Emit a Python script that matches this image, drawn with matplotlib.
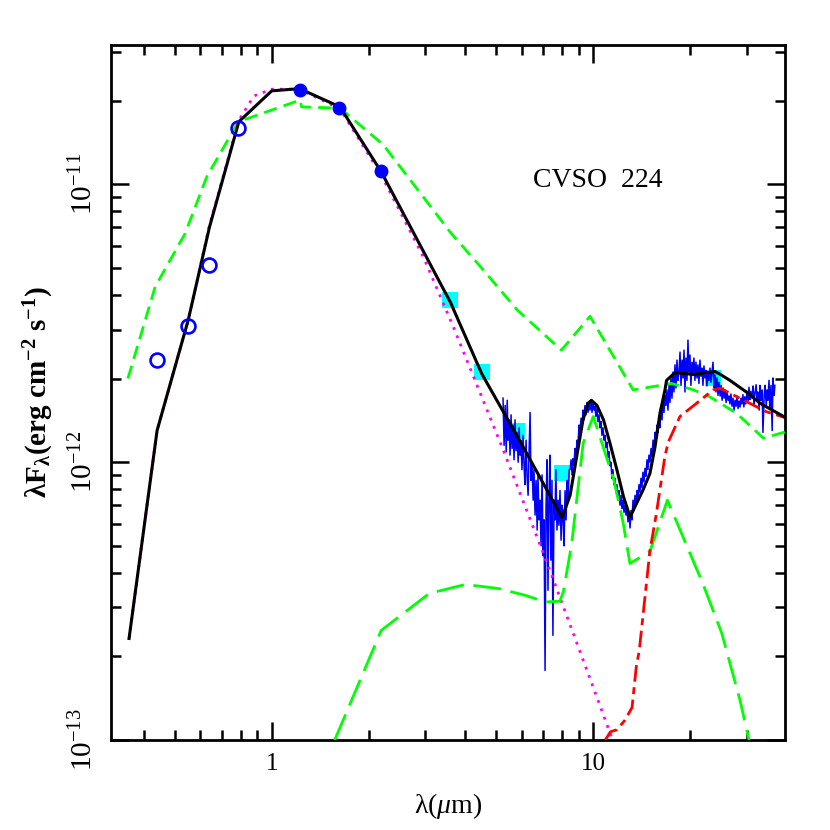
import numpy as np
import matplotlib
matplotlib.use("Agg")
import matplotlib.pyplot as plt
from matplotlib.ticker import LogLocator, FixedLocator, FixedFormatter, NullFormatter

plt.rcParams['font.family'] = ['Liberation Serif', 'DejaVu Serif']
plt.rcParams['mathtext.fontset'] = 'custom'
plt.rcParams['mathtext.rm'] = 'Liberation Serif'
plt.rcParams['mathtext.it'] = 'Liberation Serif:italic'
plt.rcParams['mathtext.bf'] = 'Liberation Serif:bold'

# photometry (micron, erg cm-2 s-1)
opt_wave = [0.439, 0.55, 0.638, 0.787]
opt_flux = [2.34e-12, 3.1e-12, 5.13e-12, 1.6e-11]
nir_wave = [1.22, 1.62, 2.19]
nir_flux = [2.19e-11, 1.89e-11, 1.12e-11]
irac_wave = [3.59, 4.5, 5.78, 7.97, 23.6]
irac_flux = [3.83e-12, 2.11e-12, 1.30e-12, 9.15e-13, 2.01e-12]

# IRS spectrum (micron, flux in 1e-12 erg cm-2 s-1)
irs = [(5.24,1.70),(5.28,1.15),(5.32,1.60),(5.36,1.09),(5.40,1.67),(5.43,1.20),(5.47,1.42),(5.51,1.06),
       (5.55,1.48),(5.59,1.12),(5.63,1.36),(5.67,1.02),(5.71,1.42),(5.75,1.10),(5.79,1.28),(5.84,1.00),
       (5.88,1.33),(5.92,1.06),(5.96,1.20),(6.00,0.94),(6.05,1.25),(6.09,0.975),(6.13,0.83),(6.18,1.20),
       (6.22,0.90),(6.27,0.76),(6.31,1.06),(6.36,1.51),(6.40,0.86),(6.45,0.975),(6.50,0.73),(6.54,0.94),
       (6.59,0.645),(6.64,0.86),(6.69,0.57),(6.73,0.90),(6.78,0.62),(6.83,0.73),(6.88,0.50),(6.93,0.90),
       (6.98,0.46),(7.03,0.62),(7.08,0.178),(7.13,0.70),(7.18,1.02),(7.23,0.346),(7.28,0.73),(7.33,1.06),
       (7.38,0.444),(7.44,0.86),(7.49,0.238),(7.55,0.73),(7.60,0.62),(7.65,0.94),(7.71,0.57),(7.77,0.73),
       (7.82,0.593),(7.88,0.79),(7.94,0.524),(7.99,0.70),(8.05,0.62),(8.11,0.50),(8.17,0.79),(8.23,0.62),
       (8.29,0.86),(8.35,0.73),(8.41,0.94),(8.47,0.94),(8.53,1.02),(8.59,0.90),(8.65,1.03),(8.71,0.975),
       (8.77,1.12),(8.84,1.06),(8.90,1.20),(8.96,1.15),(9.03,1.36),(9.09,1.28),
       (9.16,1.44),(9.22,1.33),(9.29,1.54),(9.35,1.42),(9.42,1.60),(9.49,1.48),(9.56,1.64),(9.63,1.51),
       (9.70,1.62),(9.77,1.54),(9.84,1.67),(9.91,1.51),(9.98,1.63),(10.05,1.54),(10.12,1.59),(10.19,1.46),
       (10.27,1.56),(10.34,1.40),(10.42,1.48),(10.49,1.33),(10.57,1.40),(10.64,1.25),(10.72,1.33),(10.80,1.20),
       (10.87,1.25),(10.95,1.13),(11.03,1.18),(11.11,1.04),(11.19,1.09),(11.27,0.97),(11.35,1.00),(11.43,0.875),
       (11.51,0.94),(11.60,0.83),(11.68,0.875),(11.76,0.78),(11.85,0.83),(11.94,0.74),(12.02,0.79),(12.11,0.70),
       (12.20,0.76),(12.28,0.68),(12.37,0.73),(12.46,0.66),(12.55,0.70),(12.64,0.645),(12.73,0.68),(12.82,0.61),
       (12.92,0.66),(13.01,0.58),(13.10,0.67),(13.20,0.62),(13.29,0.73),(13.39,0.67),(13.48,0.76),(13.58,0.70),
       (13.68,0.79),(13.77,0.74),(13.87,0.83),(13.97,0.78),(14.07,0.875),(14.17,0.81),(14.27,0.92),(14.38,0.85),
       (14.48,0.95),(14.58,0.89),(14.69,1.02),(14.79,0.94),(14.90,1.06),(15.01,1.00),(15.12,1.12),(15.23,1.05),
       (15.34,1.20),(15.45,1.10),(15.56,1.28),(15.67,1.20),(15.78,1.36),(15.89,1.28),(16.01,1.44),(16.12,1.33),
       (16.24,1.57),(16.36,1.42),(16.47,1.67),(16.59,1.51),(16.71,1.74),(16.83,1.60),
       (16.95,1.82),(17.07,1.54),(17.20,1.89),(17.32,1.64),(17.44,2.01),(17.57,1.70),(17.69,2.11),(17.82,1.79),
       (17.95,2.24),(18.08,1.85),(18.21,2.33),(18.34,1.97),(18.47,2.11),(18.61,2.49),(18.74,1.89),(18.88,2.33),
       (19.01,2.01),(19.15,2.53),(19.28,1.79),(19.42,2.37),(19.56,1.97),(19.70,2.75),(19.84,2.11),(19.98,2.43),
       (20.12,1.89),(20.27,2.29),(20.41,2.06),(20.56,2.37),(20.71,1.97),(20.86,2.29),(21.01,2.01),(21.16,2.24),
       (21.31,1.92),(21.47,2.33),(21.62,2.04),(21.78,2.18),(21.93,1.89),(22.09,2.22),(22.25,2.01),(22.41,2.14),
       (22.57,1.88),(22.73,2.11),(22.90,1.97),(23.07,2.18),(23.23,1.94),(23.40,2.11),(23.57,2.29),(23.74,1.85),
       (23.90,2.06),(24.08,1.79),(24.25,2.01),(24.43,1.74),(24.61,1.94),(24.80,1.73),(24.97,1.89),(25.15,1.67),
       (25.33,1.85),(25.51,1.70),(25.70,1.82),(25.88,1.64),(26.07,1.79),(26.26,1.67),(26.45,1.73),(26.6,1.62),
       (26.8,1.76),(27.0,1.59),(27.2,1.70),(27.4,1.54),(27.6,1.67),(27.8,1.59),(28.0,1.73),(28.2,1.56),
       (28.4,1.66),(28.6,1.58),(28.8,1.70),(29.0,1.62),(29.2,1.75),(29.4,1.58),(29.6,1.72),(29.8,1.62),
       (30.1,1.80),(30.3,1.66),(30.5,1.86),(30.7,1.68),(30.9,1.80),(31.2,1.70),(31.4,1.88),(31.6,1.62),
       (31.8,1.76),(32.1,1.90),(32.3,1.66),(32.5,1.79),(32.8,1.54),(33.0,1.89),(33.2,1.67),(33.5,1.82),
       (33.7,1.28),(34.0,1.74),(34.2,1.89),(34.5,1.60),(34.7,1.82),(34.9,1.67),(35.2,1.97),(35.4,1.56),
       (35.7,1.89),(36.0,1.30),(36.2,2.01),(36.5,1.74),(36.7,1.89)]

# models
total_wave = [0.36, 0.44, 0.55, 0.64, 0.79, 1.0, 1.22, 1.63, 2.19, 3.6, 4.5, 5.8, 8.0, 8.47, 8.87,
              9.29, 9.63, 9.87, 10.27, 10.76, 11.27, 11.85, 12.42, 13.01, 13.63, 14.27, 15.0, 15.56,
              16.12, 16.71, 16.9, 17.95, 20.5, 22.4, 23.9, 25.0, 26.6, 29.9, 33.0, 39.5]
total_flux = [2.32e-13, 1.30e-12, 3.25e-12, 7.0e-12, 1.68e-11, 2.17e-11, 2.21e-11, 1.90e-11, 1.11e-11,
              3.75e-12, 2.08e-12, 1.24e-12, 6.32e-13, 7.6e-13, 1.04e-12, 1.42e-12, 1.63e-12, 1.67e-12,
              1.60e-12, 1.42e-12, 1.17e-12, 9.36e-13, 7.5e-13, 6.35e-13, 7.1e-13, 7.93e-13, 9.1e-13,
              1.135e-12, 1.5e-12, 1.82e-12, 1.97e-12, 2.1e-12, 2.07e-12, 2.1e-12, 2.12e-12, 2.06e-12,
              1.97e-12, 1.79e-12, 1.63e-12, 1.45e-12]

phot_wave = [0.36, 0.44, 0.55, 0.64, 0.79, 0.88, 1.0, 1.22, 1.63, 2.19, 2.96, 3.67, 5.25, 7.33, 10.25, 11.41, 11.6]
phot_flux = [2.32e-13, 1.30e-12, 3.25e-12, 7.1e-12, 1.70e-11, 2.08e-11, 2.2e-11, 2.2e-11, 1.87e-11,
             1.08e-11, 5.49e-12, 3.07e-12, 1.105e-12, 4.08e-13, 1.43e-13, 1.02e-13, 9.7e-14]

median_wave = [0.357, 0.434, 0.538, 0.628, 0.787, 1.225, 1.238, 1.63, 2.22, 3.6, 4.5, 5.8, 7.96,
               9.77, 13.3, 17.5, 20.5, 23.0, 27.9, 33.8, 40.0]
median_flux = [2.0e-12, 4.28e-12, 6.66e-12, 1.065e-11, 1.68e-11, 2.01e-11, 1.90e-11, 1.88e-11, 1.39e-11,
               6.7e-12, 4.99e-12, 3.53e-12, 2.53e-12, 3.35e-12, 1.82e-12, 1.92e-12, 1.82e-12, 1.72e-12,
               1.50e-12, 1.22e-12, 1.29e-12]

wall_wave = [1.57, 2.19, 3.09, 4.0, 5.07, 6.13, 7.08, 7.87, 8.07, 8.57, 9.3, 10.0, 11.6, 12.4, 13.0,
             15.0, 17.0, 21.9, 25.1, 28.6, 30.5]
wall_flux = [1.0e-13, 2.48e-13, 3.37e-13, 3.63e-13, 3.51e-13, 3.32e-13, 3.14e-13, 3.16e-13, 3.41e-13,
             5.1e-13, 1.17e-12, 1.46e-12, 8.6e-13, 6.0e-13, 4.32e-13, 4.77e-13, 7.3e-13, 3.66e-13,
             2.42e-13, 1.39e-13, 1.0e-13]

disk_wave = [10.9, 11.3, 11.85, 12.55, 13.2, 13.6, 13.9, 15.0, 15.7, 16.7, 17.1, 18.6, 23.6, 24.8, 34.5, 40.0]
disk_flux = [1.0e-13, 1.07e-13, 1.09e-13, 1.18e-13, 1.31e-13, 1.83e-13, 2.1e-13, 4.8e-13, 6.5e-13,
             1.05e-12, 1.18e-12, 1.46e-12, 1.82e-12, 1.845e-12, 1.52e-12, 1.44e-12]

irs_wave = [w for w, f in irs]
irs_flux = [f * 1e-12 for w, f in irs]

fig = plt.figure(figsize=(8.3, 8.3), dpi=100)
ax = fig.add_axes([0.1334, 0.1084, 0.8124, 0.8377])

ax.plot(irac_wave, irac_flux, 's', color='#00ffff', ms=11.5, mew=0, zorder=1)
ax.plot(irs_wave, irs_flux, color='#0000ff', lw=1.1, zorder=2)
ax.plot(phot_wave, phot_flux, color='#ff00ff', lw=2, dashes=(1, 2.2), zorder=3)
ax.plot(median_wave, median_flux, color='#00ff00', lw=2, dashes=(4.8, 2.6), zorder=3)
ax.plot(wall_wave, wall_flux, color='#00ff00', lw=2, dashes=(10, 3.5), zorder=3)
ax.plot(disk_wave, disk_flux, color='#ff0000', lw=2, dashes=(6, 2, 2.5, 2), zorder=3)
ax.plot(total_wave, total_flux, color='black', lw=2.2, zorder=4)
ax.plot(opt_wave, opt_flux, 'o', mfc='none', mec='#0000ff', mew=1.9, ms=10, zorder=5)
ax.plot(nir_wave, nir_flux, 'o', color='#0000ff', ms=9, zorder=5)

ax.set_xscale('log')
ax.set_yscale('log')
ax.set_xlim(0.3157, 39.47)
ax.set_ylim(1e-13, 3.18e-11)

ax.xaxis.set_major_locator(FixedLocator([1, 10]))
ax.xaxis.set_major_formatter(FixedFormatter(['1', '10']))
ax.xaxis.set_minor_locator(LogLocator(base=10, subs=np.arange(2, 10)))
ax.xaxis.set_minor_formatter(NullFormatter())
ax.yaxis.set_major_locator(FixedLocator([1e-13, 1e-12, 1e-11]))
ax.yaxis.set_major_formatter(FixedFormatter([r'10$^{-13}$', r'10$^{-12}$', r'10$^{-11}$']))
ax.yaxis.set_minor_locator(LogLocator(base=10, subs=np.arange(2, 10)))
ax.yaxis.set_minor_formatter(NullFormatter())

ax.tick_params(which='both', direction='in', top=True, right=True, width=1.8)
ax.tick_params(axis='x', labelsize=18)
ax.tick_params(axis='y', labelsize=21)
ax.tick_params(which='major', length=13, pad=9)
ax.tick_params(which='minor', length=7)
for lab in ax.get_yticklabels():
    lab.set_rotation(90)
    lab.set_va('center')
for sp in ax.spines.values():
    sp.set_linewidth(2)

ax.set_xlabel(r'λ($\mathit{μ}$m)', fontsize=20, labelpad=12)
ax.set_ylabel(r'$\mathbf{λF_{λ}(erg\ cm^{-2}\ s^{-1})}$', fontsize=21, labelpad=10)
ax.text(10.34, 1.036e-11, 'CVSO  224', fontsize=20, ha='center', va='center')

fig.savefig('out.png', dpi=100)
